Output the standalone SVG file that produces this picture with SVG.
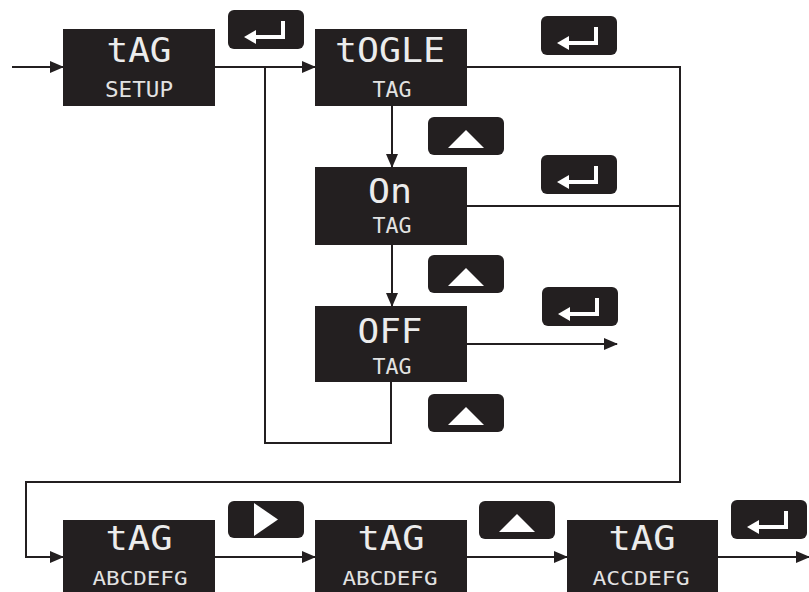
<svg xmlns="http://www.w3.org/2000/svg" width="809" height="592" viewBox="0 0 809 592">
<defs>
<style>
.box{fill:#231f20;}
.btn{fill:#231f20;}
.t1{font-family:"DejaVu Sans Mono","Liberation Mono",monospace;font-size:34px;fill:#ececec;text-anchor:middle;}
.t2{font-family:"DejaVu Sans Mono","Liberation Mono",monospace;font-size:22px;fill:#e2e2e2;text-anchor:middle;}
.t3{font-family:"DejaVu Sans Mono","Liberation Mono",monospace;font-size:19px;fill:#e2e2e2;text-anchor:middle;}
.ln{fill:none;stroke:#231f20;stroke-width:2;}
.icon{fill:none;stroke:#ffffff;stroke-width:4;}
.wh{fill:#ffffff;}
</style>
<marker id="ah" markerWidth="14" markerHeight="12" refX="13" refY="6" orient="auto" markerUnits="userSpaceOnUse">
<path d="M0,0 L14,6 L0,12 Z" fill="#231f20"/>
</marker>
<g id="enter">
<rect class="btn" x="0" y="0" width="76" height="39" rx="6"/>
<path class="icon" d="M55,11 V27 H26"/>
<path class="wh" d="M16,27 L28,20 L28,34 Z"/>
</g>
<g id="up">
<rect class="btn" x="0" y="0" width="76" height="38" rx="6"/>
<path class="wh" d="M20,31 L38,13 L56,31 Z"/>
</g>
<g id="right">
<rect class="btn" x="0" y="0" width="76" height="37" rx="6"/>
<path class="wh" d="M26,2 L50,18.5 L26,35 Z"/>
</g>
</defs>

<g id="connectors">
<path class="ln" d="M12,67 H63" marker-end="url(#ah)"/>
<path class="ln" d="M215,67 H315" marker-end="url(#ah)"/>
<path class="ln" d="M391,382 V443 H265 V67"/>
<path class="ln" d="M392,106 V167" marker-end="url(#ah)"/>
<path class="ln" d="M392,245 V306" marker-end="url(#ah)"/>
<path class="ln" d="M467,67 H680 V482 H26 V557 H63" marker-end="url(#ah)"/>
<path class="ln" d="M467,206 H680"/>
<path class="ln" d="M467,344 H617" marker-end="url(#ah)"/>
<path class="ln" d="M215,557 H315" marker-end="url(#ah)"/>
<path class="ln" d="M467,557 H567" marker-end="url(#ah)"/>
<path class="ln" d="M718,557 H809" marker-end="url(#ah)"/>
</g>

<g id="btn-enter-1"><use href="#enter" x="228" y="10"/></g>
<g id="btn-enter-2"><use href="#enter" x="541" y="16"/></g>
<g id="btn-up-1"><use href="#up" x="428" y="117"/></g>
<g id="btn-enter-3"><use href="#enter" x="541" y="155"/></g>
<g id="btn-up-2"><use href="#up" x="428" y="255"/></g>
<g id="btn-enter-4"><use href="#enter" x="542" y="287"/></g>
<g id="btn-up-3"><use href="#up" x="428" y="394"/></g>
<g id="btn-right-1"><use href="#right" x="228" y="501"/></g>
<g id="btn-up-4"><use href="#up" x="479" y="501"/></g>
<g id="btn-enter-5"><use href="#enter" x="731" y="500"/></g>

<g id="node-tag-setup">
<rect class="box" x="63" y="29" width="152" height="77"/>
<text class="t1" x="139" y="62" textLength="65" lengthAdjust="spacingAndGlyphs">tAG</text>
<text class="t2" x="139" y="97" textLength="68" lengthAdjust="spacingAndGlyphs">SETUP</text>
</g>
<g id="node-togle">
<rect class="box" x="315" y="29" width="152" height="77"/>
<text class="t1" x="390" y="62" textLength="110" lengthAdjust="spacingAndGlyphs">tOGLE</text>
<text class="t2" x="392" y="97" textLength="39" lengthAdjust="spacingAndGlyphs">TAG</text>
</g>
<g id="node-on">
<rect class="box" x="315" y="167" width="152" height="78"/>
<text class="t1" x="390" y="203" textLength="44" lengthAdjust="spacingAndGlyphs">On</text>
<text class="t2" x="392" y="233" textLength="39" lengthAdjust="spacingAndGlyphs">TAG</text>
</g>
<g id="node-off">
<rect class="box" x="315" y="306" width="152" height="76"/>
<text class="t1" x="390" y="343" textLength="65" lengthAdjust="spacingAndGlyphs">OFF</text>
<text class="t2" x="392" y="374" textLength="39" lengthAdjust="spacingAndGlyphs">TAG</text>
</g>
<g id="node-tag-1">
<rect class="box" x="63" y="520" width="152" height="72"/>
<text class="t1" x="139" y="550" textLength="67" lengthAdjust="spacingAndGlyphs">tAG</text>
<text class="t3" x="140" y="585" textLength="95" lengthAdjust="spacingAndGlyphs">ABCDEFG</text>
</g>
<g id="node-tag-2">
<rect class="box" x="315" y="520" width="152" height="72"/>
<text class="t1" x="391" y="550" textLength="67" lengthAdjust="spacingAndGlyphs">tAG</text>
<text class="t3" x="390" y="585" textLength="95" lengthAdjust="spacingAndGlyphs">ABCDEFG</text>
</g>
<g id="node-tag-3">
<rect class="box" x="567" y="520" width="151" height="72"/>
<text class="t1" x="642" y="550" textLength="67" lengthAdjust="spacingAndGlyphs">tAG</text>
<text class="t3" x="641" y="585" textLength="97" lengthAdjust="spacingAndGlyphs">ACCDEFG</text>
</g>
</svg>
